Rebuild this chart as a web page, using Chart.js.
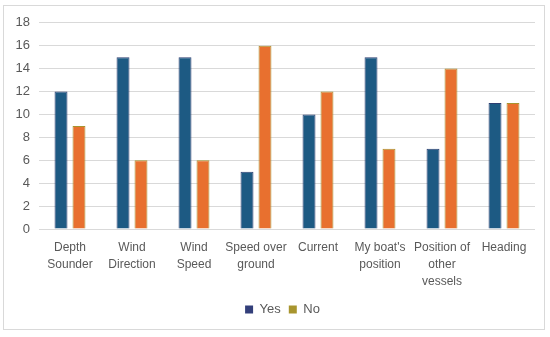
<!DOCTYPE html>
<html>
<head>
<meta charset="utf-8">
<script src="https://cdn.jsdelivr.net/npm/chart.js@4/dist/chart.umd.min.js"></script>
<style>
  html, body { margin: 0; padding: 0; background: #fff; }
  #box { position: absolute; left: 3px; top: 5px; width: 540px; height: 323px; border: 1px solid #d9d9d9; }
</style>
</head>
<body>
<div id="box"><canvas id="survey-chart" width="540" height="323"></canvas></div>
<script>
// categories and answers
const categories = [
    ['Depth', 'Sounder'],
    ['Wind', 'Direction'],
    ['Wind', 'Speed'],
    ['Speed over', 'ground'],
    'Current',
    ["My boat's", 'position'],
    ['Position of', 'other', 'vessels'],
    'Heading'
];
const yesValues = [12, 15, 15, 5, 10, 15, 7, 11];
const noValues = [9, 6, 6, 16, 12, 7, 14, 11];
const yTicks = [0, 2, 4, 6, 8, 10, 12, 14, 16, 18];

const textColor = '#595959';
const fontFamily = "'Liberation Sans', Arial, sans-serif";

// nudge the legend a bit to the right, like the original
const legendShift = {
    id: 'legendShift',
    afterLayout: function (chart) {
        chart.legend.left += 13;
        chart.legend.right += 13;
    }
};

let surveyChart = new Chart(document.getElementById('survey-chart'), {
    type: 'bar',
    data: {
        labels: categories,
        datasets: [{
            label: 'Yes',
            data: yesValues,
            backgroundColor: '#1d5a83',
            borderColor: '#2d3f72',
            borderWidth: 1,
            barPercentage: 0.72,
            categoryPercentage: 0.58
        }, {
            label: 'No',
            data: noValues,
            backgroundColor: '#e8702f',
            borderColor: '#a8942f',
            borderWidth: 1,
            barPercentage: 0.72,
            categoryPercentage: 0.58
        }]
    },
    plugins: [legendShift],
    options: {
        responsive: false,
        animation: false,
        layout: {
            padding: { top: -3, right: 9, bottom: 3, left: 0 }
        },
        plugins: {
            legend: {
                position: 'bottom',
                labels: {
                    color: textColor,
                    boxWidth: 8,
                    boxHeight: 8,
                    padding: 8,
                    font: { size: 13, family: fontFamily },
                    generateLabels: function (chart) {
                        return chart.data.datasets.map((ds, i) => ({
                            text: ds.label,
                            fillStyle: i === 0 ? '#333f7a' : '#a8952e',
                            strokeStyle: i === 0 ? '#333f7a' : '#a8952e',
                            lineWidth: 0,
                            fontColor: textColor,
                            datasetIndex: i
                        }));
                    }
                }
            },
            tooltip: { enabled: false }
        },
        scales: {
            x: {
                grid: { display: false },
                border: { display: false },
                ticks: {
                    color: textColor,
                    maxRotation: 0,
                    autoSkip: false,
                    padding: 2,
                    font: { size: 12, family: fontFamily, lineHeight: 1.42 }
                },
                afterFit: function (axis) {
                    axis.height = 66;
                }
            },
            y: {
                min: 0,
                max: 18,
                afterBuildTicks: function (axis) {
                    axis.ticks = yTicks.map(v => ({ value: v }));
                },
                grid: { color: '#d9d9d9', drawTicks: false },
                border: { display: false },
                ticks: {
                    color: textColor,
                    padding: 9,
                    font: { size: 13, family: fontFamily }
                },
                afterFit: function (axis) {
                    axis.width = 35;
                }
            }
        }
    }
});
</script>
</body>
</html>
